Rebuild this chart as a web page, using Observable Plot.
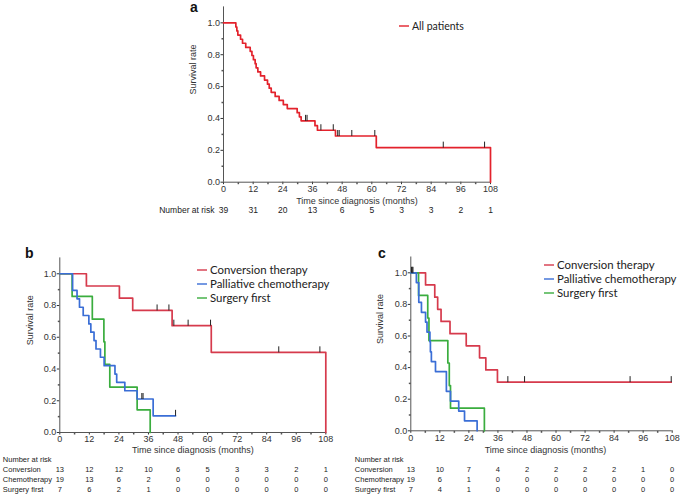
<!DOCTYPE html>
<html><head><meta charset="utf-8">
<script src="https://cdn.jsdelivr.net/npm/d3@7"></script>
<script src="https://cdn.jsdelivr.net/npm/@observablehq/plot@0.6"></script>
<style>
html,body{margin:0;padding:0;background:#fff;}
#root{position:relative;width:685px;height:497px;overflow:hidden;font-family:"Liberation Sans",Arial,sans-serif;}
.panel{position:absolute;}
.plabel{position:absolute;font:bold 14px "Liberation Sans",Arial,sans-serif;color:#111;line-height:14px;}
.legend{position:absolute;font-family:Lato,"Open Sans",sans-serif;color:#222;}
.legend .row{display:flex;align-items:center;white-space:nowrap;}
.legend svg{display:block;margin-right:3px;}
</style></head><body><div id="root"></div><script>
// ---------- shared axis values ----------
const xTicks = [0,12,24,36,48,60,72,84,96,108];
const xMinor = [6,18,30,42,54,66,78,90,102];
const yTicks = [0,0.2,0.4,0.6,0.8,1.0];
const yMinor = [0.1,0.3,0.5,0.7,0.9];

// ---------- panel a: all patients ----------
const allTime = [0,5.0,5.4,5.8,6.9,7.7,9.0,10.8,11.5,12.1,12.8,13.2,13.9,15.0,16.6,17.8,18.5,19.3,20.9,22.5,24.2,25.8,29.8,30.7,31.4,37.0,38.0,45.3,61.8,108];
const allSurv = [1,0.974,0.949,0.923,0.897,0.872,0.846,0.821,0.795,0.769,0.744,0.718,0.692,0.667,0.641,0.615,0.590,0.564,0.538,0.513,0.487,0.462,0.436,0.410,0.385,0.355,0.326,0.290,0.217,0];
const allCensTime = [33.2,33.8,39.4,44.4,46.2,46.8,51.9,61.2,88.9,105.6];
const allCensSurv = [0.385,0.385,0.326,0.326,0.290,0.290,0.290,0.290,0.217,0.217];
const riskAll = [39,31,20,13,6,5,3,3,2,1];

// ---------- panel b ----------
const convBTime = [0,10.8,24.2,29.6,45.6,61.5,108];
const convBSurv = [1,0.923,0.846,0.769,0.673,0.505,0];
const convBCensTime = [39.5,44.3,46.3,52.1,61.2,88.9,105.6];
const convBCensSurv = [0.769,0.769,0.673,0.673,0.673,0.505,0.505];
const chemoBTime = [0,5.2,7.0,8.0,9.5,11.8,12.6,13.9,14.7,16.5,18.0,22.4,23.1,26.4,31.4,37.9,47.0];
const chemoBSurv = [1,0.895,0.842,0.789,0.737,0.684,0.632,0.579,0.526,0.474,0.421,0.368,0.316,0.263,0.211,0.105,0.105];
const chemoBCensTime = [33.3,33.8,47.0];
const chemoBCensSurv = [0.211,0.211,0.105];
const surgBTime = [0,5.0,13.2,17.9,18.3,20.3,31.4,36.7];
const surgBSurv = [1,0.857,0.714,0.571,0.429,0.286,0.143,0];
const riskBConv = [13,12,12,10,6,5,3,3,2,1];
const riskBChemo = [19,13,6,2,0,0,0,0,0,0];
const riskBSurg = [7,6,2,1,0,0,0,0,0,0];

// ---------- panel c ----------
const convCTime = [0,6.1,9.9,11.1,12.5,16.2,22.9,28.4,31.0,35.8,107.6];
const convCSurv = [1,0.923,0.846,0.769,0.692,0.615,0.538,0.462,0.385,0.308,0.308];
const convCCensTime = [40.1,47.0,90.6,107.6];
const convCCensSurv = [0.308,0.308,0.308,0.308];
const chemoCTime = [0,2.3,3.3,4.4,6.1,6.7,7.9,8.1,8.5,10.2,14.7,16.4,19.8,22.2,27.4];
const chemoCSurv = [1,0.938,0.813,0.75,0.688,0.625,0.563,0.5,0.438,0.375,0.25,0.188,0.125,0.063,0];
const chemoCCensTime = [0.3,0.6,0.9];
const chemoCCensSurv = [1,1,1];
const surgCTime = [0,3.2,7.0,7.5,15.3,15.9,16.4,30.4];
const surgCSurv = [1,0.857,0.714,0.571,0.429,0.286,0.143,0];
const riskCConv = [13,10,7,4,2,2,2,2,1,0];
const riskCChemo = [19,6,1,0,0,0,0,0,0,0];
const riskCSurg = [7,4,1,0,0,0,0,0,0,0];

const groupNames = ["Conversion therapy","Palliative chemotherapy","Surgery first"];
const riskRowNames = ["Conversion","Chemotherapy","Surgery first"];

// ---------- styling ----------
const RED_A = "#e3222c", RED = "#d63a4c", BLUE = "#3a6ed6", GREEN = "#3aad3e";
const AXIS = "#555";
const censorSym = {draw(ctx){ ctx.moveTo(0,0); ctx.lineTo(0,-6); }};
const downTick = {draw(ctx){ ctx.moveTo(0,0); ctx.lineTo(0,2); }};
const leftTick = {draw(ctx){ ctx.moveTo(0,0); ctx.lineTo(-2,0); }};

const zip = (T,S) => T.map((t,i)=>({t, s:S[i]}));

function buildPanel(cfg){
  const marks = [
    Plot.ruleX([0], {stroke: AXIS}),
    Plot.ruleY([0], {stroke: AXIS}),
    Plot.dot(xMinor, {x: d=>d, frameAnchor:"bottom", symbol: downTick, fill:"none", stroke: AXIS}),
    Plot.dot(yMinor, {y: d=>d, frameAnchor:"left", symbol: leftTick, fill:"none", stroke: AXIS})
  ];
  for (const s of cfg.series){
    marks.push(Plot.line(zip(s.T, s.S), {x:"t", y:"s", curve:"step-after", stroke: s.color, strokeWidth: 1.7}));
  }
  for (const c of cfg.censors){
    marks.push(Plot.dot(zip(c.T, c.S), {x:"t", y:"s", symbol: censorSym, fill:"none", stroke:"#222", strokeWidth: 1}));
  }
  marks.push(Plot.text(["Survival rate"], {frameAnchor:"left", rotate:-90, dx: cfg.ylabDx, fontSize: 9, fill:"#333"}));
  marks.push(Plot.text(["Time since diagnosis (months)"], {frameAnchor:"bottom", dy: cfg.xlabDy, dx: cfg.xlabDx || 0, fontSize: 9, fill:"#333"}));
  if (cfg.riskTitle) marks.push(Plot.text([cfg.riskTitle.text], {frameAnchor:"bottom-left", dx: cfg.riskTitle.dx, dy: cfg.riskTitle.dy, textAnchor: cfg.riskTitle.anchor, fontSize: cfg.riskFont, fill:"#222"}));
  for (const r of cfg.risk){
    marks.push(Plot.text(xTicks.map((t,i)=>({t, n:r.values[i]})), {x:"t", text:"n", frameAnchor:"bottom", dy: r.dy, fontSize: cfg.riskFont, fill:"#222"}));
    if (r.name) marks.push(Plot.text([r.name], {frameAnchor:"bottom-left", dx: cfg.rowDx, dy: r.dy, textAnchor:"start", fontSize: cfg.riskFont, fill:"#222"}));
  }
  const svg = Plot.plot({
    width: cfg.width, height: cfg.height,
    marginLeft: cfg.ml, marginRight: cfg.mr, marginTop: cfg.mt, marginBottom: cfg.mb,
    style: {fontFamily: '"Liberation Sans", Arial, sans-serif', fontSize: "9px", color: "#333", background: "transparent", overflow: "visible"},
    x: {domain:[0,108], ticks: xTicks, tickFormat: d=>String(d), tickSize: 2.5, tickPadding: 1, label: null},
    y: {domain:[0,1.1], ticks: yTicks, tickFormat: ".1f", tickSize: 2.5, tickPadding: 1, label: null},
    marks
  });
  const wrap = document.createElement("div");
  wrap.className = "panel";
  wrap.style.left = cfg.left + "px";
  wrap.style.top = cfg.top + "px";
  wrap.appendChild(svg);
  document.getElementById("root").appendChild(wrap);
}

function addLabel(text, left, top){
  const d = document.createElement("div");
  d.className = "plabel"; d.textContent = text;
  d.style.left = left + "px"; d.style.top = top + "px";
  document.getElementById("root").appendChild(d);
}
const SVGNS = "http://www.w3.org/2000/svg";
function addLegend(left, top, rowH, fontSize, swW, items){
  const d = document.createElement("div");
  d.className = "legend";
  d.style.left = left + "px"; d.style.top = top + "px"; d.style.fontSize = fontSize + "px";
  for (const it of items){
    const r = document.createElement("div"); r.className = "row";
    r.style.height = rowH + "px"; r.style.lineHeight = rowH + "px";
    const sw = document.createElementNS(SVGNS, "svg");
    sw.setAttribute("width", swW); sw.setAttribute("height", 4);
    const ln = document.createElementNS(SVGNS, "line");
    ln.setAttribute("x1", 0); ln.setAttribute("x2", swW); ln.setAttribute("y1", 2); ln.setAttribute("y2", 2);
    ln.setAttribute("stroke", it.color); ln.setAttribute("stroke-width", 1.4);
    sw.appendChild(ln);
    const tx = document.createElement("span"); tx.textContent = it.name;
    r.appendChild(sw); r.appendChild(tx); d.appendChild(r);
  }
  document.getElementById("root").appendChild(d);
}

// panel a
buildPanel({
  left: 140, top: 0, width: 360, height: 222, ml: 83, mr: 10, mt: 6.4, mb: 40.3,
  series: [{T: allTime, S: allSurv, color: RED_A}],
  censors: [{T: allCensTime, S: allCensSurv}],
  ylabDx: -30, xlabDy: 22,
  riskFont: 8.5,
  riskTitle: {text: "Number at risk", dx: -9, dy: 31, anchor: "end"},
  risk: [{values: riskAll, dy: 31}]
});
// panel b
buildPanel({
  left: 0, top: 240, width: 340, height: 257, ml: 59.3, mr: 14.7, mt: 17.4, mb: 65,
  series: [{T: convBTime, S: convBSurv, color: RED}, {T: surgBTime, S: surgBSurv, color: GREEN}, {T: chemoBTime, S: chemoBSurv, color: BLUE}],
  censors: [{T: convBCensTime, S: convBCensSurv}, {T: chemoBCensTime, S: chemoBCensSurv}],
  ylabDx: -30, xlabDy: 20.7,
  riskFont: 7.5, rowDx: -57,
  riskTitle: {text: "Number at risk", dx: -57, dy: 29.7, anchor: "start"},
  risk: [{values: riskBConv, dy: 39.7, name: riskRowNames[0]}, {values: riskBChemo, dy: 49.7, name: riskRowNames[1]}, {values: riskBSurg, dy: 59.7, name: riskRowNames[2]}]
});
// panel c
buildPanel({
  left: 340, top: 240, width: 345, height: 257, ml: 70.3, mr: 13.3, mt: 16.5, mb: 66.7,
  series: [{T: convCTime, S: convCSurv, color: RED}, {T: surgCTime, S: surgCSurv, color: GREEN}, {T: chemoCTime, S: chemoCSurv, color: BLUE}],
  censors: [{T: convCCensTime, S: convCCensSurv}, {T: chemoCCensTime, S: chemoCCensSurv}],
  ylabDx: -31, xlabDy: 22.4, xlabDx: 4,
  riskFont: 7.5, rowDx: -56,
  riskTitle: {text: "Number at risk", dx: -56, dy: 31.4, anchor: "start"},
  risk: [{values: riskCConv, dy: 41.4, name: riskRowNames[0]}, {values: riskCChemo, dy: 51.4, name: riskRowNames[1]}, {values: riskCSurg, dy: 61.4, name: riskRowNames[2]}]
});

addLabel("a", 190, 0);
addLabel("b", 25, 246);
addLabel("c", 378, 246);
addLegend(399, 19, 14, 10.5, 10, [{name: "All patients", color: RED_A}]);
addLegend(197, 263, 14, 11.4, 10, [{name: groupNames[0], color: RED}, {name: groupNames[1], color: BLUE}, {name: groupNames[2], color: GREEN}]);
addLegend(544, 258, 14, 11.4, 10, [{name: groupNames[0], color: RED}, {name: groupNames[1], color: BLUE}, {name: groupNames[2], color: GREEN}]);
</script></body></html>
